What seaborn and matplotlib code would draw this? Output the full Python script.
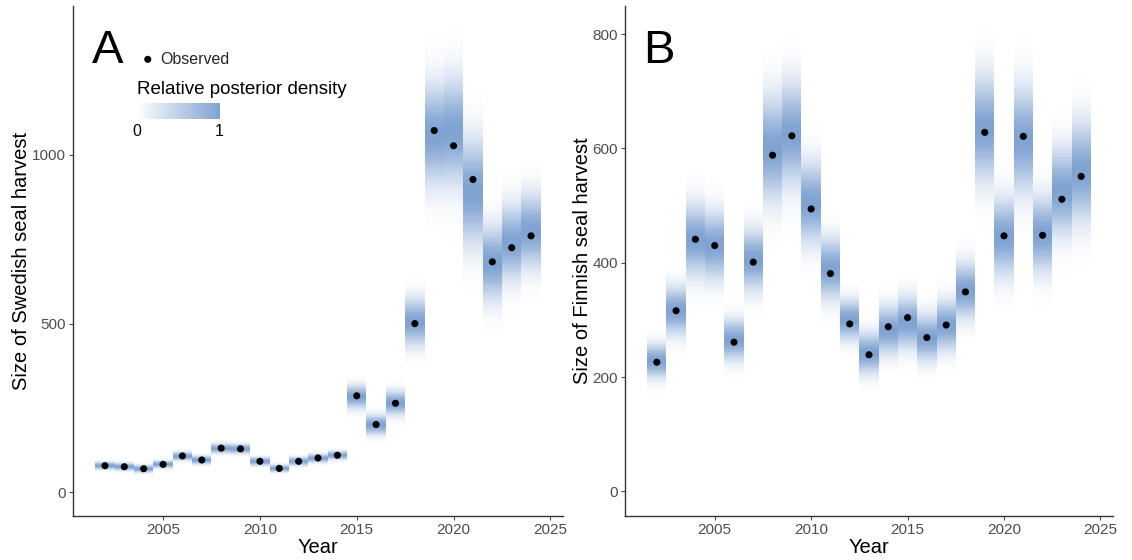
import numpy as np
import pandas as pd
import matplotlib
matplotlib.use("Agg")
import matplotlib.pyplot as plt
from matplotlib.colors import LinearSegmentedColormap
import seaborn as sns

# ---- data -------------------------------------------------------------
years = list(range(2002, 2025))

# Sweden: observed harvest, posterior centre and spread
swe_observed = [79, 76, 70, 83, 108, 96, 131, 129, 92, 71, 92, 102, 110,
                286, 201, 264, 500, 1072, 1027, 927, 683, 725, 760]
swe_post_mid = [79, 76, 70, 83, 107, 96, 130, 129, 92, 71, 92, 101, 110,
                283, 200, 265, 505, 1060, 1070, 890, 680, 740, 775]
swe_post_sd = [7, 7, 7, 7, 8, 8, 9, 9, 8, 7, 8, 8, 8,
               22, 19, 23, 45, 95, 100, 100, 70, 70, 70]

# Finland: observed harvest, posterior centre and spread
fin_observed = [226, 316, 441, 430, 261, 401, 588, 622, 494, 381, 293, 239,
                288, 304, 269, 291, 349, 628, 447, 621, 448, 511, 551]
fin_post_mid = [228, 316, 440, 430, 265, 405, 600, 625, 505, 390, 300, 242,
                282, 295, 269, 290, 351, 635, 445, 615, 450, 525, 560]
fin_post_sd = [19, 27, 40, 38, 23, 34, 58, 57, 45, 34, 23, 23,
               27, 29, 26, 28, 31, 58, 43, 58, 42, 48, 55]

# ---- style ------------------------------------------------------------
sns.set_theme(style="ticks")
plt.rcParams["font.family"] = ["Liberation Sans", "DejaVu Sans"]

band_color = "#80A3D2"
dens_cmap = LinearSegmentedColormap.from_list("dens", ["#FFFFFF", band_color])
tick_grey = "#4D4D4D"


def density_table(yrs, mids, sds):
    rows = []
    for yr, m, s in zip(yrs, mids, sds):
        edges = np.linspace(m - 3.5 * s, m + 3.5 * s, 141)
        centres = 0.5 * (edges[:-1] + edges[1:])
        dens = np.exp(-0.5 * ((centres - m) / s) ** 2)
        rows.append((yr, edges, dens / dens.max()))
    return rows


def draw_panel(ax, observed, mids, sds, ylim, yticks, ylabel, letter):
    for yr, edges, dens in density_table(years, mids, sds):
        ax.pcolormesh([yr - 0.5, yr + 0.5], edges, dens[:, None],
                      cmap=dens_cmap, vmin=0, vmax=1, shading="flat",
                      edgecolors="none", antialiased=False, zorder=1)
    df = pd.DataFrame({"Year": years, "Harvest": observed})
    sns.scatterplot(data=df, x="Year", y="Harvest", ax=ax, color="black",
                    s=26, edgecolor="none", zorder=3, label="Observed",
                    legend=False)
    ax.set_xlim(2000.35, 2025.65)
    ax.set_ylim(*ylim)
    ax.set_xticks([2005, 2010, 2015, 2020, 2025])
    ax.set_yticks(yticks)
    ax.set_xlabel("Year", fontsize=14.5, color="black", labelpad=1)
    ax.set_ylabel(ylabel, fontsize=14.5, color="black", labelpad=0.5)
    ax.tick_params(axis="both", labelsize=11, colors=tick_grey, length=3,
                   width=0.8, pad=2)
    for lab in ax.get_xticklabels() + ax.get_yticklabels():
        lab.set_color(tick_grey)
    for side in ["top", "right"]:
        ax.spines[side].set_visible(False)
    for side in ["left", "bottom"]:
        ax.spines[side].set_color("#333333")
        ax.spines[side].set_linewidth(1.0)
    ax.text(0.038, 0.955, letter, transform=ax.transAxes, fontsize=34,
            va="top", ha="left", color="black")


fig = plt.figure(figsize=(11.32, 5.6), dpi=100)
ax_a = fig.add_axes([73 / 1132, 44 / 560, 490 / 1132, 510 / 560])
ax_b = fig.add_axes([625 / 1132, 44 / 560, 488 / 1132, 510 / 560])

draw_panel(ax_a, swe_observed, swe_post_mid, swe_post_sd, (-70, 1441),
           [0, 500, 1000], "Size of Swedish seal harvest", "A")
draw_panel(ax_b, fin_observed, fin_post_mid, fin_post_sd, (-43, 849),
           [0, 200, 400, 600, 800], "Size of Finnish seal harvest", "B")

# legend for observed points
ax_a.legend(loc="center left", bbox_to_anchor=(0.12, 0.896), frameon=False,
            fontsize=11.5, handletextpad=0.2, borderaxespad=0,
            markerscale=1.0, handlelength=1.2)

# colour bar for relative posterior density
fig.text(137 / 1132, 1 - 90 / 560, "Relative posterior density",
         fontsize=13.5, va="center", ha="left", color="black")
cax = fig.add_axes([137 / 1132, 1 - 119 / 560, 83 / 1132, 16 / 560])
grad = np.linspace(0, 1, 256)[None, :]
cax.imshow(grad, aspect="auto", cmap=dens_cmap, extent=(0, 1, 0, 1))
cax.set_xticks([])
cax.set_yticks([])
for sp in cax.spines.values():
    sp.set_visible(False)
fig.text(137 / 1132, 1 - 131 / 560, "0", fontsize=11.5, ha="center",
         va="center", color="black")
fig.text(219 / 1132, 1 - 131 / 560, "1", fontsize=11.5, ha="center",
         va="center", color="black")

fig.savefig("out.png", dpi=100, facecolor="white")
